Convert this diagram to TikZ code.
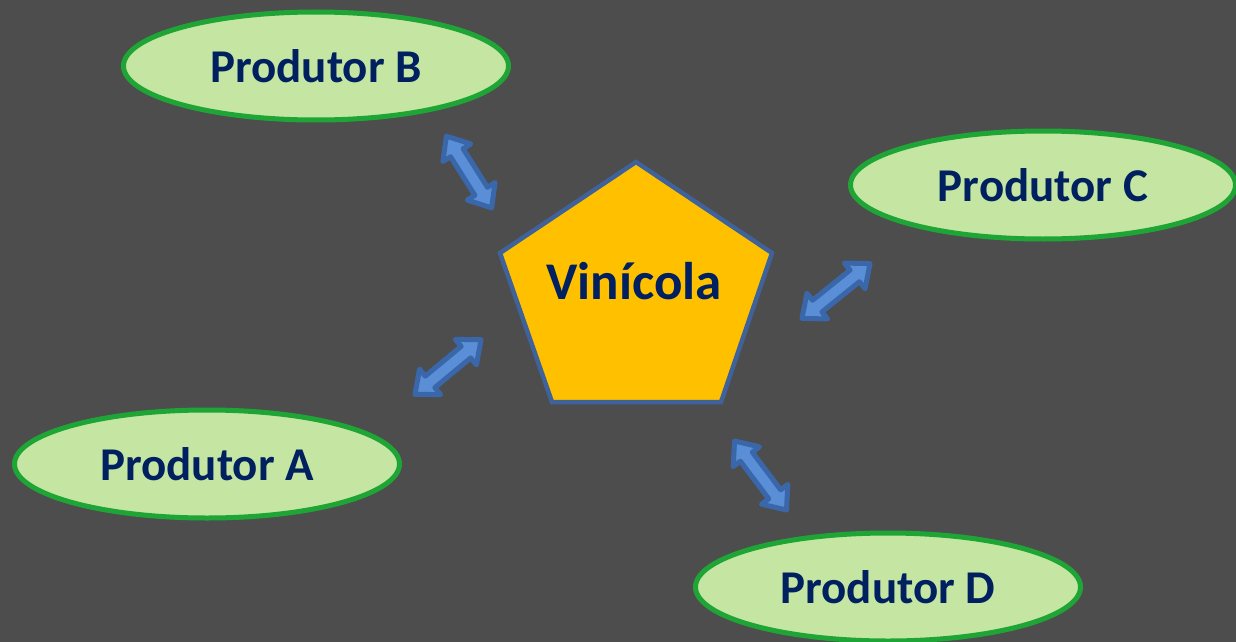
\documentclass[tikz,border=0pt]{standalone}
\usepackage{fontspec}
\setmainfont{Carlito}
\usetikzlibrary{positioning}
\usetikzlibrary{shapes.geometric,shapes.arrows}
\usetikzlibrary{calc}

\definecolor{bgray}{HTML}{4D4D4D}
\definecolor{navy}{HTML}{002060}
\definecolor{prodfill}{HTML}{C5E6A2}
\definecolor{prodedge}{HTML}{1FA535}
\definecolor{vinfill}{HTML}{FFC000}
\definecolor{vinedge}{HTML}{3E6299}
\definecolor{arrowfill}{HTML}{5A8ED6}
\definecolor{arrowedge}{HTML}{3A66AA}

\begin{document}
\begin{tikzpicture}[
  x=1pt, y=-1pt,
  prod/.style={ellipse,draw=prodedge,fill=prodfill,line width=5pt,
    minimum width=385pt,minimum height=108pt,inner sep=0pt,text=navy,
    font=\fontsize{47}{56}\selectfont\bfseries},
  dblarrow/.style={double arrow,draw=arrowedge,fill=arrowfill,line width=5pt,
    line join=round,inner xsep=0pt,inner ysep=5pt,minimum width=28pt,
    double arrow head extend=9pt,double arrow tip angle=80}
]
\fill[bgray] (0,0) rectangle (1236,642);
\useasboundingbox (0,0) rectangle (1236,642);
\clip (0,0) rectangle (1236,642);

% pentagon
\draw[draw=vinedge,fill=vinfill,line width=4.5pt,line join=miter]
  (636,162) -- (772,253) -- (721,402) -- (552,402) -- (500,253) -- cycle;
\node[text=navy,inner sep=0pt,font=\fontsize{53}{60}\selectfont\bfseries]
  (vin) at (634,281) {Vinícola};

\node[prod] (pb) at (316,66) {Produtor B};
\node[prod] (pc) at (1043,185) {Produtor C};
\node[prod] (pa) at (207,464) {Produtor A};
\node[prod] (pd) at (888,587) {Produtor D};

% arrow ends
\coordinate (a1) at (483,338);
\coordinate (a2) at (413,396);
\coordinate (b1) at (493,210);
\coordinate (b2) at (445,134);
\coordinate (c1) at (800,320);
\coordinate (c2) at (872,262);
\coordinate (d1) at (733,439);
\coordinate (d2) at (788,512);

\foreach \s/\t in {a1/a2,b1/b2,c1/c2,d1/d2}
  \path let \p1=($(\t)-(\s)$), \n1={atan2(\y1,\x1)}, \n2={veclen(\x1,\y1)} in
    node[dblarrow,rotate=\n1,minimum height=\n2-5pt] at ($(\s)!0.5!(\t)$) {};

\end{tikzpicture}
\end{document}
